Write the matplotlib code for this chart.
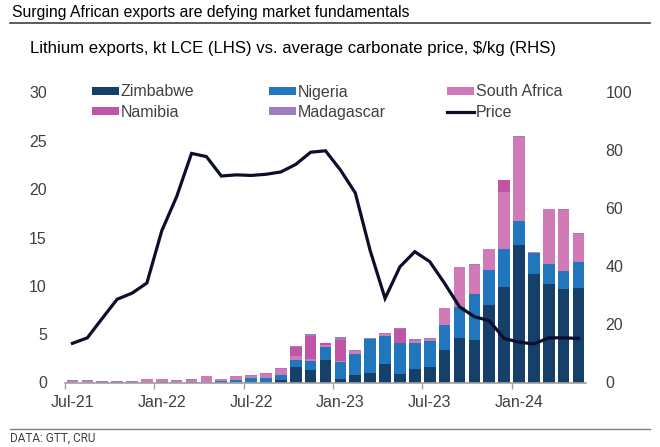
import matplotlib
matplotlib.use("Agg")
import matplotlib.pyplot as plt
from matplotlib.patches import Patch
from matplotlib.lines import Line2D
import numpy as np
import pandas as pd

plt.rcParams['font.family'] = ['Liberation Sans', 'DejaVu Sans']

months = pd.date_range("2021-07-01", "2024-05-01", freq="MS").strftime("%b-%y").tolist()
tick_labels = ["Jul-21", "Jan-22", "Jul-22", "Jan-23", "Jul-23", "Jan-24"]

zimbabwe = [0, 0, 0, 0, 0, 0, 0, 0, 0, 0, 0, 0, 0, 0, 0.3, 1.6, 1.3, 2.3, 0.4, 0.8,
            1.0, 1.9, 0.9, 1.4, 1.6, 3.4, 4.6, 4.4, 8.0, 9.9, 14.2, 11.2, 10.2, 9.7, 9.8]
nigeria = [0, 0, 0, 0, 0, 0, 0.05, 0, 0.1, 0, 0.15, 0.3, 0.45, 0.45, 0.5, 0.7, 0.9, 1.35, 1.7, 2.2,
           3.5, 2.95, 3.2, 2.65, 2.65, 2.6, 3.25, 4.8, 3.6, 3.95, 2.55, 2.15, 2.1, 1.8, 2.7]
south_africa = [0.2, 0.2, 0.1, 0.08, 0.1, 0.35, 0.3, 0.2, 0.15, 0.65, 0.2, 0.35, 0.25, 0.4, 0.55, 0.4, 0.2, 0.25, 0.1, 0.25,
                0.05, 0.15, 0.0, 0.25, 0.2, 1.7, 4.05, 2.95, 2.2, 5.9, 8.65, 0.15, 5.65, 6.35, 2.9]
namibia = [0, 0, 0, 0, 0, 0, 0, 0, 0, 0, 0, 0, 0, 0.05, 0, 1.0, 2.45, 0.15, 2.2, 0,
           0, 0, 1.4, 0, 0, 0, 0, 0, 0, 1.2, 0, 0, 0, 0, 0]
madagascar = [0.05, 0.03, 0.08, 0.05, 0.08, 0.05, 0.05, 0.05, 0.1, 0.05, 0.05, 0.05, 0.05, 0.05, 0.1, 0.05, 0.2, 0.05, 0.35, 0.15,
              0.05, 0.1, 0.1, 0.2, 0.15, 0.05, 0.1, 0.1, 0.05, 0.05, 0.1, 0.05, 0.05, 0.05, 0.05]
price = [13.5, 15.4, 22.1, 28.7, 30.8, 34.3, 52.3, 64.1, 79.0, 77.9, 71.2, 71.6, 71.4, 71.8, 72.6, 75.2, 79.4, 79.9, 73.3, 65.4,
         45.5, 29.0, 39.9, 45.1, 41.7, 34.2, 26.1, 22.7, 21.3, 15.2, 13.9, 13.3, 15.4, 15.4, 15.2]

series = [("Zimbabwe", zimbabwe, "#15406A"),
          ("Nigeria", nigeria, "#2177BD"),
          ("South Africa", south_africa, "#D07BB8"),
          ("Namibia", namibia, "#C154A4"),
          ("Madagascar", madagascar, "#9D7DC2")]
price_color = "#0B0F2B"
text_color = "#404040"

W, H = 660, 447
fig = plt.figure(figsize=(W / 100, H / 100), dpi=100)
ax = fig.add_axes([65 / W, 1 - 382.5 / H, (586 - 65) / W, (382.5 - 92.5) / H])
ax2 = ax.twinx()

x = np.arange(len(months))
bottom = np.zeros(len(months))
for name, vals, col in series:
    v = np.array(vals, dtype=float)
    ax.bar(x, v, bottom=bottom, width=0.78, color=col, edgecolor="none", label=name, zorder=2)
    bottom += v

ax2.plot(x, price, color=price_color, lw=2.3, solid_joinstyle="miter", zorder=3)

ax.set_xlim(-0.5, len(months) - 0.5)
ax.set_ylim(0, 30)
ax2.set_ylim(0, 100)
ax.set_yticks(np.arange(0, 31, 5))
ax2.set_yticks(np.arange(0, 101, 20))

tick_pos = [months.index(t) for t in tick_labels]
ax.set_xticks(tick_pos)
ax.set_xticklabels(tick_labels)
ax.set_xticks([p - 0.5 for p in tick_pos], minor=True)
ax.tick_params(axis="x", which="major", length=0, pad=9, labelsize=11.5, labelcolor=text_color)
ax.tick_params(axis="x", which="minor", length=4, width=1, color="#A0A0A0", direction="out")
ax.tick_params(axis="y", length=0, pad=13, labelsize=11.5, labelcolor=text_color)
ax2.tick_params(axis="y", length=0, pad=14, labelsize=11.5, labelcolor=text_color)

for a in (ax, ax2):
    for s in ("top", "left", "right"):
        a.spines[s].set_visible(False)
    a.spines["bottom"].set_color("#A0A0A0")
    a.spines["bottom"].set_linewidth(1.2)
ax2.spines["bottom"].set_visible(False)

# legend in three fixed columns
handles = [Patch(facecolor=c, edgecolor="none", label=n) for n, _, c in series]
handles.append(Line2D([0], [0], color=price_color, lw=2.3, label="Price"))
cols = [(91.5, [handles[0], handles[3]]), (269, [handles[1], handles[4]]), (447, [handles[2], handles[5]])]
for xpos, hs in cols:
    fig.legend(handles=hs, loc="upper left", bbox_to_anchor=(xpos / W, 1 - 84.5 / H),
               frameon=False, fontsize=11.5, handlelength=1.7, handleheight=0.4,
               handletextpad=0.12, labelspacing=0.35, borderaxespad=0, borderpad=0,
               labelcolor=text_color)

fig.text(12 / W, 1 - 13 / H, "Surging African exports are defying market fundamentals",
         fontsize=11.3, color="#000000", ha="left", va="center")
fig.add_artist(Line2D([10 / W, 650 / W], [1 - 23 / H, 1 - 23 / H], color="#404040", lw=1.2))
fig.text(30 / W, 1 - 48 / H, "Lithium exports, kt LCE (LHS) vs. average carbonate price, $/kg (RHS)",
         fontsize=12.1, color="#000000", ha="left", va="center")
fig.add_artist(Line2D([10 / W, 650 / W], [1 - 429 / H, 1 - 429 / H], color="#808080", lw=1.0))
fig.text(10 / W, 1 - 438 / H, "DATA: GTT, CRU", fontsize=8.5, color=text_color,
         family=["Liberation Sans Narrow", "Roboto", "DejaVu Sans"], ha="left", va="center")

fig.savefig("out.png", dpi=100)
